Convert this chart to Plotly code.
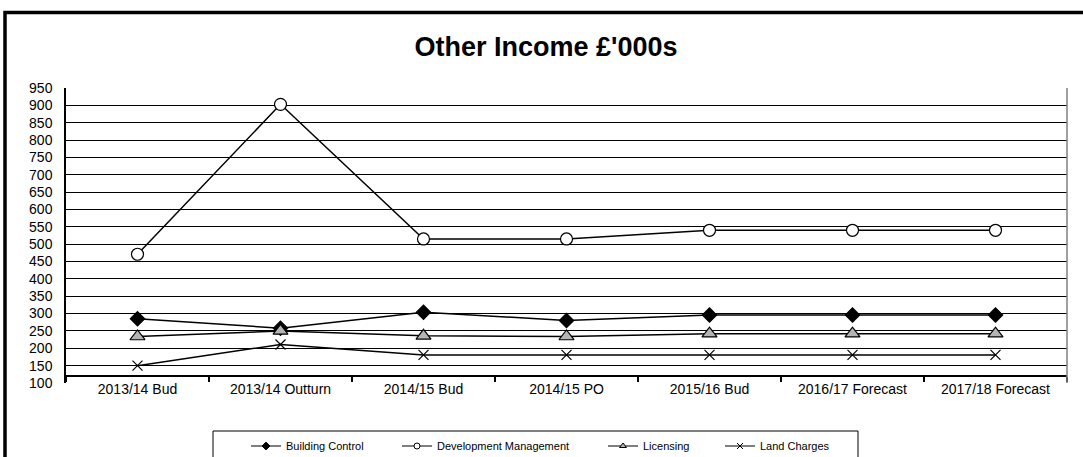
import plotly.graph_objects as go

categories = ["2013/14 Bud", "2013/14 Outturn", "2014/15 Bud", "2014/15 PO",
              "2015/16 Bud", "2016/17 Forecast", "2017/18 Forecast"]
building_control = [285, 258, 304, 280, 296, 296, 296]
development_mgmt = [471, 903, 515, 515, 540, 540, 540]
licensing = [234, 250, 236, 234, 242, 242, 242]
land_charges = [150, 211, 181, 181, 181, 181, 181]
series_names = ["Building Control", "Development Management", "Licensing", "Land Charges"]
y_ticks = list(range(100, 951, 50))

FONT = "Arial, Liberation Sans, sans-serif"

W, H = 1083, 457
L, R, T, B = 66, 16, 88, 74
PW, PH = W - L - R, H - T - B

styles = [
    dict(symbol="diamond", color="black", size=11, lsize=6),
    dict(symbol="circle", color="white", size=12, lsize=6),
    dict(symbol="triangle-up", color="#b4b4b4", size=13, lsize=6),
    dict(symbol="x-thin-open", color="black", size=10, lsize=6),
]
series = [building_control, development_mgmt, licensing, land_charges]
legend_ids = ["legend", "legend2", "legend3", "legend4"]
legend_text_starts = [286, 437, 643, 760]

fig = go.Figure()
for vals, st in zip(series, styles):
    fig.add_trace(go.Scatter(
        x=categories, y=vals, mode="lines+markers", showlegend=False,
        line=dict(color="black", width=1.5),
        marker=dict(symbol=st["symbol"], size=st["size"], color=st["color"],
                    line=dict(color="black", width=1.2))))

# legend-only entries with small symbols (as in the reference legend)
for name, st, lid in zip(series_names, styles, legend_ids):
    fig.add_trace(go.Scatter(
        x=[None], y=[None], name=name, mode="lines+markers", legend=lid,
        line=dict(color="black", width=1.2),
        marker=dict(symbol=st["symbol"], size=st["lsize"], color=st["color"],
                    line=dict(color="black", width=1))))

legend_common = dict(orientation="h", xref="container", yref="container",
                     xanchor="left", yanchor="middle", y=1 - 446 / H,
                     bgcolor="rgba(0,0,0,0)", borderwidth=0,
                     font=dict(family=FONT, size=11, color="black"))
legends = {}
for lid, xs in zip(legend_ids, legend_text_starts):
    legends[lid] = dict(legend_common, x=(xs - 40) / W)

fig.update_layout(
    width=W, height=H,
    margin=dict(l=L, r=R, t=T, b=B, autoexpand=False),
    paper_bgcolor="white", plot_bgcolor="white",
    font=dict(family=FONT, color="black", size=14),
    title=dict(text="<b>Other Income £'000s</b>", x=546 / W, xref="container", xanchor="center",
               y=1 - 47 / H, yref="container", yanchor="middle",
               font=dict(family=FONT, size=27, color="black")),
    showlegend=True,
    xaxis=dict(type="category", anchor="free", position=(120 - 100) / 850, automargin=False,
               showline=True, linecolor="black", linewidth=1.5,
               ticks="outside", tickson="boundaries", ticklen=5, tickcolor="black", tickwidth=1.5,
               showgrid=False, tickfont=dict(family=FONT, size=14, color="black"),
               range=[-0.5, 6.5]),
    yaxis=dict(range=[100, 950], tickmode="array", tickvals=y_ticks, showgrid=False,
               automargin=False, showline=True, linecolor="black", linewidth=1.5,
               zeroline=False, ticks="", ticklabelstandoff=9,
               tickfont=dict(family=FONT, size=14, color="black"),
               minor=dict(tickmode="array", tickvals=y_ticks[1:], showgrid=True,
                          gridcolor="black", gridwidth=1, ticks="")),
    **legends,
)

# plot-area right border (grey)
fig.add_shape(type="line", xref="paper", yref="paper", x0=1, x1=1, y0=0, y1=1,
              line=dict(color="#808080", width=1.5))
# legend frame
fig.add_shape(type="rect", xref="paper", yref="paper",
              x0=(213 - L) / PW, x1=(858 - L) / PW,
              y0=(383 - 470) / PH, y1=(383 - 431) / PH,
              line=dict(color="black", width=1), fillcolor="rgba(0,0,0,0)", layer="below")
# outer chart frame
fig.add_shape(type="rect", xref="paper", yref="paper",
              x0=(5 - L) / PW, x1=(1095 - L) / PW,
              y0=(383 - 475) / PH, y1=(383 - 12.5) / PH,
              line=dict(color="black", width=3.5), fillcolor="rgba(0,0,0,0)", layer="below")

fig.write_html("out.html", config={"displayModeBar": False},
               post_script="document.body.style.margin='0';document.body.style.overflow='hidden';")
